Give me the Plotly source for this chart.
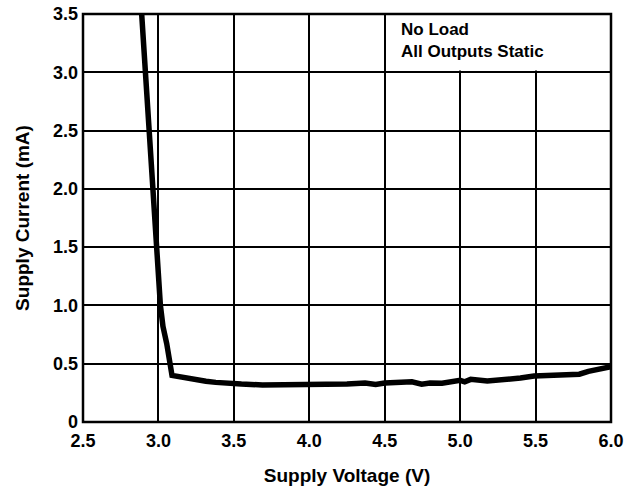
import plotly.graph_objects as go

voltage = [2.889, 2.914, 2.94, 2.967, 2.986, 3.013, 3.03, 3.055, 3.09, 3.15, 3.204, 3.26, 3.315, 3.38, 3.447, 3.55,
           3.69, 3.8, 3.93, 4.13, 4.25, 4.37, 4.44, 4.5, 4.6, 4.68, 4.745, 4.8, 4.88, 4.95, 5.0, 5.03, 5.07,
           5.18, 5.3, 5.40, 5.49, 5.6, 5.68, 5.79, 5.85, 5.93, 6.0]
current = [3.5, 3.0, 2.5, 2.0, 1.5, 1.0, 0.82, 0.672, 0.40, 0.385, 0.375, 0.36, 0.35, 0.34, 0.33, 0.325,
           0.318, 0.32, 0.318, 0.318, 0.325, 0.335, 0.322, 0.335, 0.338, 0.345, 0.325, 0.335, 0.332, 0.342, 0.357, 0.345, 0.366,
           0.352, 0.362, 0.377, 0.395, 0.398, 0.398, 0.41, 0.435, 0.455, 0.475]

x_ticks = [2.5, 3.0, 3.5, 4.0, 4.5, 5.0, 5.5, 6.0]
x_ticklabels = ["2.5", "3.0", "3.5", "4.0", "4.5", "5.0", "5.5", "6.0"]
y_ticks = [0, 0.5, 1.0, 1.5, 2.0, 2.5, 3.0, 3.5]
y_ticklabels = ["0", "0.5", "1.0", "1.5", "2.0", "2.5", "3.0", "3.5"]

note_lines = ["No Load", "All Outputs Static"]

font_family = "Liberation Sans, Arial, sans-serif"

fig = go.Figure()
fig.add_trace(go.Scatter(x=voltage, y=current, mode="lines",
                         line=dict(color="black", width=5.5), showlegend=False))

axis_common = dict(showgrid=True, gridcolor="black", gridwidth=2,
                   showline=False, zeroline=False, ticks="", automargin=False,
                   ticklabeloverflow="allow",
                   tickfont=dict(family=font_family, size=18, color="black"),
                   title_font=dict(family=font_family, size=19, color="black"))

fig.update_xaxes(range=[2.5, 6.0], tickvals=x_ticks,
                 ticktext=["<b>%s</b>" % t for t in x_ticklabels],
                 ticklabelstandoff=6,
                 title_text="<b>Supply Voltage (V)</b>", title_standoff=18, **axis_common)
fig.update_yaxes(range=[0, 3.5], tickvals=y_ticks,
                 ticktext=["<b>%s</b>" % t for t in y_ticklabels],
                 ticklabelstandoff=4,
                 title_text="<b>Supply Current (mA)</b>", title_standoff=18, **axis_common)

# white box behind the note (hides grid lines there)
fig.add_shape(type="rect", xref="x", yref="y", x0=4.515, x1=6.0, y0=3.015, y1=3.5,
              fillcolor="white", line=dict(width=0), layer="above")
# plot frame
fig.add_shape(type="rect", xref="paper", yref="paper", x0=0, x1=1, y0=0, y1=1,
              line=dict(color="black", width=2.5), layer="above")

fig.add_annotation(x=4.593, y=3.47, xref="x", yref="y", xanchor="left", yanchor="top",
                   align="left", showarrow=False,
                   text="<br>".join("<b>%s</b>" % t for t in note_lines),
                   font=dict(family=font_family, size=17, color="black"))

fig.update_layout(width=635, height=490, paper_bgcolor="white", plot_bgcolor="white",
                  margin=dict(l=83, r=24, t=14, b=68))

fig.write_html("out.html", config={"displayModeBar": False},
               post_script="document.body.style.margin='0';")
